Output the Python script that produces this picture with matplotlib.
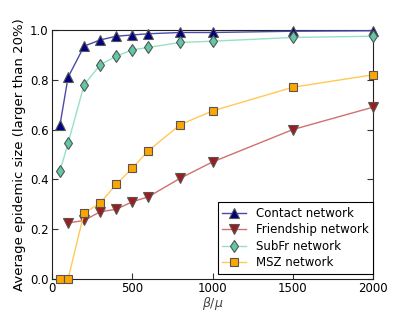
import matplotlib
matplotlib.use("Agg")
import matplotlib.pyplot as plt

x_contact = [50, 100, 200, 300, 400, 500, 600, 800, 1000, 1500, 2000]
contact = [0.62, 0.81, 0.935, 0.96, 0.975, 0.98, 0.985, 0.99, 0.99, 0.995, 0.997]
x_friend = [100, 200, 300, 400, 500, 600, 800, 1000, 1500, 2000]
friend = [0.225, 0.235, 0.27, 0.28, 0.31, 0.33, 0.405, 0.47, 0.60, 0.69]
x_subfr = [50, 100, 200, 300, 400, 500, 600, 800, 1000, 1500, 2000]
subfr = [0.435, 0.545, 0.78, 0.86, 0.895, 0.92, 0.93, 0.95, 0.955, 0.97, 0.975]
x_msz = [50, 100, 200, 300, 400, 500, 600, 800, 1000, 1500, 2000]
msz = [0.0, 0.0, 0.265, 0.305, 0.38, 0.445, 0.515, 0.62, 0.675, 0.77, 0.82]
labels = ["Contact network", "Friendship network", "SubFr network", "MSZ network"]

fig = plt.figure(figsize=(4.15, 3.12), dpi=100)
ax = fig.add_axes([52/415, 33/312, 321/415, 249/312])

series = [
    (x_contact, contact, "^", "#000080", "#4a4aa8", 6.5),
    (x_friend, friend, "v", "#a01c1c", "#d07070", 6.5),
    (x_subfr, subfr, "d", "#5ec9a4", "#96e0c8", 6.5),
    (x_msz, msz, "s", "#ffa500", "#ffc957", 5.5),
]
for (xs, ys, m, mc, lc, ms), lab in zip(series, labels):
    ax.plot(xs, ys, color=lc, lw=1.0, marker=m, markersize=ms,
            markerfacecolor=mc, markeredgecolor="#555555", markeredgewidth=0.8,
            label=lab, clip_on=False, zorder=3)

ax.set_xlim(0, 2000)
ax.set_ylim(0, 1.0)
ax.set_xticks([0, 500, 1000, 1500, 2000])
ax.set_yticks([0.0, 0.2, 0.4, 0.6, 0.8, 1.0])
ax.set_yticklabels(["0.0", "0.2", "0.4", "0.6", "0.8", "1.0"])
ax.tick_params(direction="in", top=True, right=True, labelsize=8.5, length=4,
               color="#333333", pad=2.5)
for s in ax.spines.values():
    s.set_color("#222222")
ax.set_xlabel(r"$\beta/\mu$", fontsize=9, labelpad=-0.5, color="#444444")
ax.set_ylabel("Average epidemic size (larger than 20%)", fontsize=9.5, labelpad=3)
leg = ax.legend(loc="lower right", fontsize=8.5, fancybox=False, framealpha=1,
                edgecolor="black", borderpad=0.4, labelspacing=0.3, handlelength=2.0,
                bbox_to_anchor=(1.0, 0.02), borderaxespad=0.0)
leg.get_frame().set_linewidth(0.8)
fig.savefig("out.png", dpi=100)
